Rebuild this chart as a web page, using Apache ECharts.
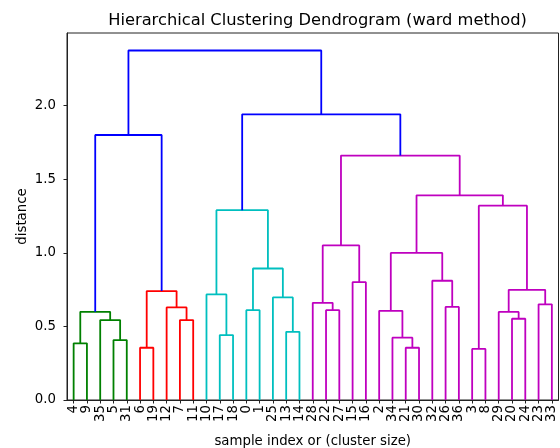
<!DOCTYPE html>
<html>
<head>
<meta charset="utf-8">
<script src="https://cdn.jsdelivr.net/npm/echarts@6/dist/echarts.min.js"></script>
<style>
html,body{margin:0;padding:0;background:#fff;}
#chart{width:560px;height:448px;}
</style>
</head>
<body>
<div id="chart"></div>
<script>
// Leaf labels in dendrogram order (left to right)
var leafLabels = ['4','9','35','5','31','6','19','12','7','11','10','17','18','0','1','25','13','14',
  '28','22','27','15','16','2','34','21','30','32','26','36','3','8','29','20','24','23','33'];

// Linkage: [childA, childB, distance]; ids < 37 are leaf positions, merge k gets id 37+k
var linkA = [0,3,2,37, 5,8,7,41, 11,10,13,16,15,47,46, 19,18,21,53,25,24,23,28,27,58,30,33,32,35,64,62,61,55, 40,51,70];
var linkB = [1,4,38,39, 6,9,42,43, 12,45,14,17,48,49,50, 20,52,22,54,26,56,57,29,59,60,31,34,63,36,65,66,67,68, 44,69,71];
var linkDist = [0.385,0.407,0.543,0.599, 0.355,0.543,0.629,0.74, 0.441,0.717,0.61,0.463,0.697,0.893,1.289,
  0.61,0.66,0.80,1.05,0.355,0.423,0.606,0.632,0.81,0.999,0.347,0.552,0.598,0.65,0.748,1.32,1.39,1.66,
  1.80,1.94,2.374];
var linkColor = ['g','g','g','g','r','r','r','r','c','c','c','c','c','c','c',
  'm','m','m','m','m','m','m','m','m','m','m','m','m','m','m','m','m','m','b','b','b'];

var yTicks = [0, 0.5, 1.0, 1.5, 2.0];

var palette = {g:'#008000', r:'#ff0000', c:'#00bfbf', m:'#bf00bf', b:'#0000ff'};
var nLeaves = leafLabels.length;
var xs = [], ys = [];
for (var i = 0; i < nLeaves; i++) { xs.push(5 + 10 * i); ys.push(0); }
var series = [];
for (var k = 0; k < linkA.length; k++) {
  var a = linkA[k], b = linkB[k], h = linkDist[k];
  var xa = xs[a], xb = xs[b];
  series.push({
    type: 'line', silent: true, symbol: 'none', animation: false,
    lineStyle: {color: palette[linkColor[k]], width: 1.8},
    data: [[xa, ys[a]], [xa, h], [xb, h], [xb, ys[b]]]
  });
  xs.push((xa + xb) / 2); ys.push(h);
}
var leafPos = leafLabels.map(function(_, i){ return 5 + 10 * i; });
var yMax = linkDist[linkDist.length - 1] * 1.05;

var chart = echarts.init(document.getElementById('chart'));
var font = 'DejaVu Sans';
chart.setOption({
  backgroundColor: '#fff',
  animation: false,
  title: {
    text: 'Hierarchical Clustering Dendrogram (ward method)',
    left: 312.5, textAlign: 'center', top: 8,
    textStyle: {fontFamily: font, fontSize: 16.3, fontWeight: 'normal', color: '#000'}
  },
  grid: {left: 67, right: 1.5, top: 33, bottom: 48, show: true, borderColor: '#222', borderWidth: 1,
         containLabel: false, outerBoundsMode: 'none'},
  xAxis: {
    type: 'value', min: 0, max: nLeaves * 10,
    axisLine: {show: true, onZero: false, lineStyle: {color: '#222', width: 1}},
    axisTick: {show: true, length: 3.5, customValues: leafPos, lineStyle: {color: '#222'}},
    axisLabel: {
      customValues: leafPos, rotate: 90, margin: 5,
      fontFamily: font, fontSize: 13.3, color: '#000',
      formatter: function(v){ var idx = Math.round((v - 5) / 10); return leafLabels[idx] || ''; }
    },
    splitLine: {show: false},
    name: 'sample index or (cluster size)', nameLocation: 'middle', nameGap: 35, nameMoveOverlap: false,
    nameTextStyle: {fontFamily: font, fontSize: 13.3, color: '#000'}
  },
  yAxis: {
    type: 'value', min: 0, max: yMax,
    axisLine: {show: true, onZero: false, lineStyle: {color: '#222', width: 1}},
    axisTick: {show: true, length: 3.5, customValues: yTicks, lineStyle: {color: '#222'}},
    axisLabel: {
      customValues: yTicks, margin: 11,
      fontFamily: font, fontSize: 13.3, color: '#000',
      formatter: function(v){ return v.toFixed(1); }
    },
    splitLine: {show: false},
    name: 'distance', nameLocation: 'middle', nameGap: 38, nameMoveOverlap: false,
    nameTextStyle: {fontFamily: font, fontSize: 13.3, color: '#000'}
  },
  series: series
});
</script>
</body>
</html>
